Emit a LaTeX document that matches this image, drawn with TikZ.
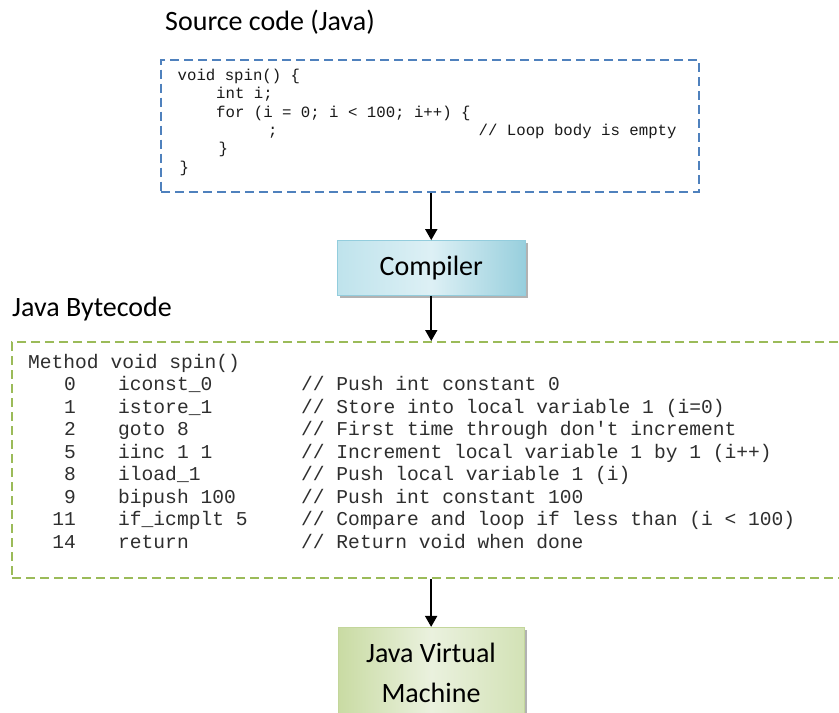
\documentclass[tikz,border=0pt]{standalone}
\usepackage{fontspec}
\setmainfont{Carlito}
\setmonofont{Liberation Mono}
\usetikzlibrary{arrows.meta,shadows}

\definecolor{srcblue}{HTML}{4F81BD}
\definecolor{bcgreen}{HTML}{9BBB59}
\definecolor{compborder}{HTML}{93CDDD}
\definecolor{compL}{HTML}{BFE3EC}
\definecolor{compM}{HTML}{DDF0F5}
\definecolor{compR}{HTML}{98CFDD}
\definecolor{jvmborder}{HTML}{C3D69B}
\definecolor{jvmL}{HTML}{C9DBA3}
\definecolor{jvmM}{HTML}{EAF1DE}
\definecolor{jvmR}{HTML}{D3E2B6}

\begin{document}
\begin{tikzpicture}[x=1pt,y=-1pt,
  title/.style={font=\fontsize{28}{32}\selectfont, inner sep=0pt, anchor=base west},
  srcline/.style={font=\ttfamily\fontsize{15.7}{18}\selectfont, inner sep=0pt, anchor=base west, text=black!90},
  bcline/.style={font=\ttfamily\fontsize{19.6}{22}\selectfont, inner sep=0pt, anchor=base west, text=black!82},
  arr/.style={line width=1.8pt, -{Triangle[width=12pt,length=11pt]}},
  dashbox/.style={draw, line width=2pt, dash pattern=on 9pt off 5pt, inner sep=0pt},
  stagebox/.style={inner sep=0pt, line width=0.8pt,
    font=\fontsize{28}{32}\selectfont,
    drop shadow={shadow xshift=2.5pt, shadow yshift=-2.5pt, fill=black!30, opacity=1}},
  stagetext/.style={font=\fontsize{28}{32}\selectfont, inner sep=0pt, anchor=base},
]
\useasboundingbox (0,0) rectangle (839,713);
\clip (0,0) rectangle (839,713);
\fill[white] (0,0) rectangle (839,713);

% ---- Java source ----
\node[title] (srctitle) at (165,30.5) {Source code (Java)};
\node[dashbox, draw=srcblue, minimum width=538pt, minimum height=132pt] (src) at (430,125.5) {};
\node[srcline] (s1) at (177.5,80.5) {void spin() \{};
\node[srcline] (s2) at (216,98.8) {int i;};
\node[srcline] (s3) at (216,117.1) {for (i = 0; i < 100; i++) \{};
\node[srcline] (s4) at (268,135.4) {;};
\node[srcline] (s5) at (478.5,135.4) {// Loop body is empty};
\node[srcline] (s6) at (218.5,153.7) {\}};
\node[srcline] (s7) at (179.5,172) {\}};

% ---- compiler ----
\node[stagebox, draw=compborder, left color=compL, right color=compR, middle color=compM,
      minimum width=187.5pt, minimum height=55pt] (comp) at (431.25,268) {Compiler};

% ---- bytecode ----
\node[title] (bctitle) at (12,316.7) {Java Bytecode};
\node[dashbox, draw=bcgreen, minimum width=848pt, minimum height=236pt] (bc) at (436,460) {};
\node[bcline] (m0) at (28,368.5) {Method void spin()};
\foreach \num/\op/\cm [count=\k] in {
  {0}/{iconst\_0}/{Push int constant 0},
  {1}/{istore\_1}/{Store into local variable 1 (i=0)},
  {2}/{goto 8}/{First time through don't increment},
  {5}/{iinc 1 1}/{Increment local variable 1 by 1 (i++)},
  {8}/{iload\_1}/{Push local variable 1 (i)},
  {9}/{bipush 100}/{Push int constant 100},
  {11}/{if\_icmplt 5}/{Compare and loop if less than (i < 100)},
  {14}/{return}/{Return void when done}}
{
  \node[bcline, anchor=base east] (n\k) at (76,368.5+\k*22.45) {\num};
  \node[bcline] (o\k) at (118,368.5+\k*22.45) {\op};
  \node[bcline] (c\k) at (301,368.5+\k*22.45) {// \cm};
}

% ---- virtual machine ----
\node[stagebox, draw=jvmborder, left color=jvmL, right color=jvmR, middle color=jvmM,
      minimum width=185.7pt, minimum height=112.7pt] (jvm) at (431.15,683.65) {};
\node[stagetext] (jvm1) at (431,662) {Java Virtual};
\node[stagetext] (jvm2) at (431,702) {Machine};

% ---- flow ----
\draw[arr] (comp.north |- src.south) -- (comp.north);
\draw[arr] (comp.south) -- (comp.south |- bc.north);
\coordinate (bcout) at (jvm.north |- bc.south);
\draw[arr] (bcout) -- (jvm.north);
\end{tikzpicture}
\end{document}
